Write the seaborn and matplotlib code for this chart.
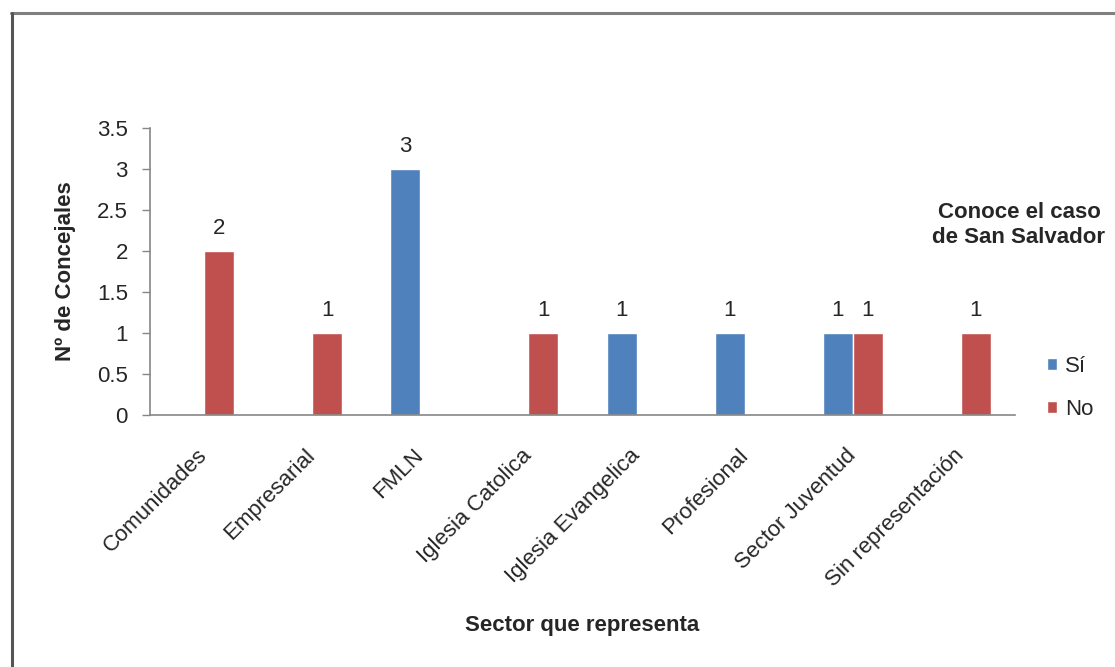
import matplotlib
matplotlib.use("Agg")
import matplotlib.pyplot as plt
import matplotlib.lines as mlines
import seaborn as sns
import pandas as pd

categories = ["Comunidades", "Empresarial", "FMLN", "Iglesia Catolica",
              "Iglesia Evangelica", "Profesional", "Sector Juventud",
              "Sin representación"]
si_values = [0, 0, 3, 0, 1, 1, 1, 0]
no_values = [2, 1, 0, 1, 0, 0, 1, 1]
series_names = ["Sí", "No"]
y_ticks = [0, 0.5, 1, 1.5, 2, 2.5, 3, 3.5]
y_tick_labels = ["0", "0.5", "1", "1.5", "2", "2.5", "3", "3.5"]

df = pd.DataFrame({
    "Sector": categories * 2,
    "Conoce": [series_names[0]] * len(categories) + [series_names[1]] * len(categories),
    "Valor": si_values + no_values,
})

sns.set_theme(style="white")
plt.rcParams["font.family"] = ["Liberation Sans", "DejaVu Sans"]

fig = plt.figure(figsize=(11.15, 6.67), dpi=100)
W, H = 1115, 667
ax = fig.add_axes([150 / W, 1 - 415 / H, 865 / W, 287 / H])

palette = {"Sí": "#4F81BD", "No": "#C0504D"}
sns.barplot(data=df, x="Sector", y="Valor", hue="Conoce", order=categories,
            hue_order=series_names, palette=palette, width=0.556, dodge=True,
            saturation=1, ax=ax, legend=True)

ax.set_ylim(0, 3.5)
ax.set_xlim(-0.5, len(categories) - 0.5)
ax.set_yticks(y_ticks)
ax.set_yticklabels(y_tick_labels, fontsize=16)
ax.tick_params(axis="y", which="major", left=True, length=6, width=1,
               color="#868686", pad=10)
ax.tick_params(axis="x", bottom=False, pad=21)
ax.set_xticks(range(len(categories)))
ax.set_xticklabels(categories, rotation=45, ha="right", va="center",
                   rotation_mode="anchor", fontsize=16)

for sp in ["top", "right"]:
    ax.spines[sp].set_visible(False)
for sp in ["left", "bottom"]:
    ax.spines[sp].set_color("#868686")
    ax.spines[sp].set_linewidth(1.2)

for cont in ax.containers:
    labels = [f"{int(v)}" if v > 0 else "" for v in cont.datavalues]
    ax.bar_label(cont, labels=labels, padding=9, fontsize=16)

ax.set_ylabel("Nº de Concejales", fontsize=16, fontweight="bold")
ax.yaxis.set_label_coords((76 - 150) / 865, 0.5)
ax.set_xlabel("Sector que representa", fontsize=16, fontweight="bold", va="center")
ax.xaxis.set_label_coords(0.5, (415 - 626) / 287)

handles, labels = ax.get_legend_handles_labels()
if ax.get_legend() is not None:
    ax.get_legend().remove()
fig.legend(handles, labels, loc="center left",
           bbox_to_anchor=(1036 / W, 1 - 388 / H), frameon=False,
           fontsize=16, handlelength=0.45, handleheight=0.45,
           handletextpad=0.35, labelspacing=1.0, borderpad=0)
fig.text(1019 / W, 1 - 225 / H, "Conoce el caso\nde San Salvador",
         ha="center", va="center", fontsize=16, fontweight="bold",
         linespacing=1.25)

# chart border (top and left edges visible)
fig.add_artist(mlines.Line2D([11 / W, 1], [1 - 13 / H, 1 - 13 / H],
                             transform=fig.transFigure, color="#808080", lw=2.2))
fig.add_artist(mlines.Line2D([12 / W, 12 / W], [0, 1 - 13 / H],
                             transform=fig.transFigure, color="#555555", lw=2.2))

fig.savefig("out.png", dpi=100)
